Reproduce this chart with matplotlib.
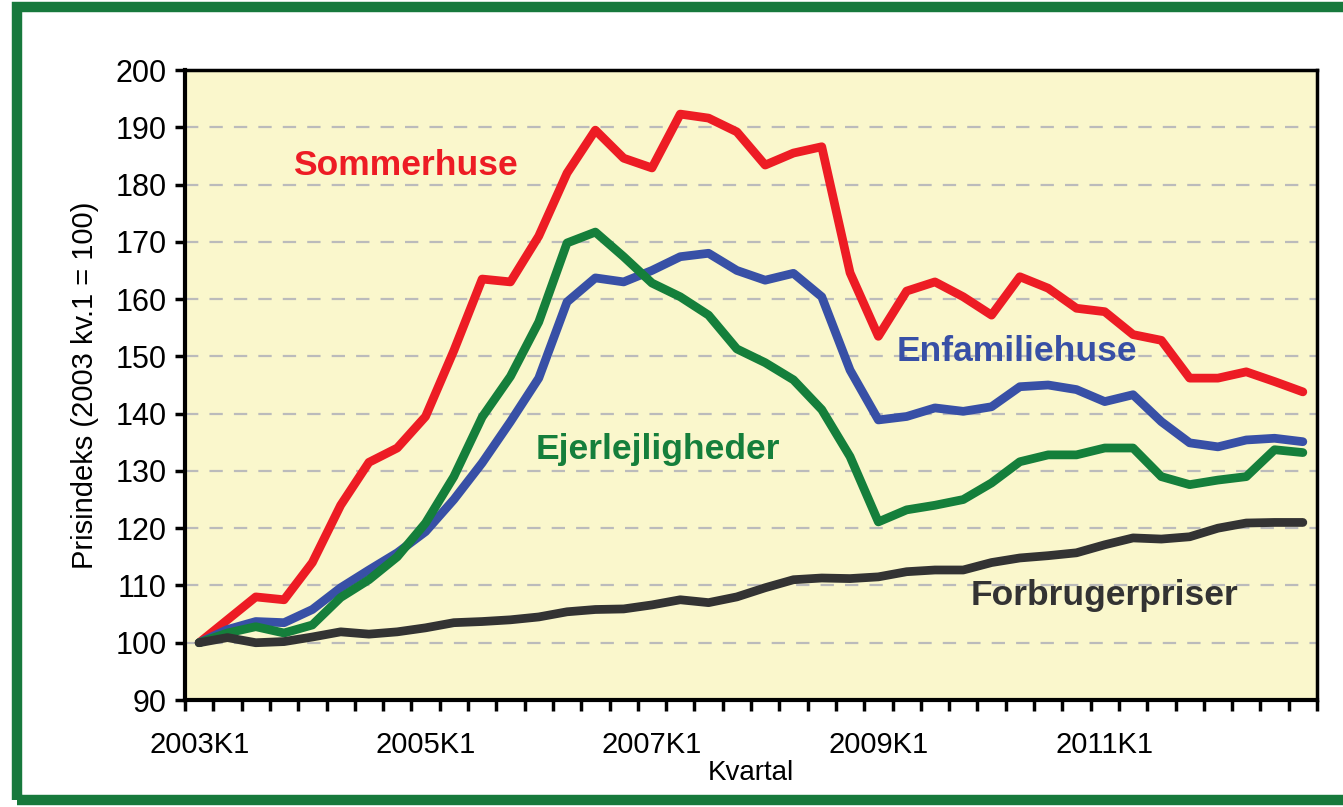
import numpy as np
import matplotlib.pyplot as plt
from matplotlib.patches import Rectangle

plt.rcParams['font.family'] = ['Liberation Sans', 'DejaVu Sans']

# kvartaler 2003K1 .. 2012K4
quarters = [f'{y}K{q}' for y in range(2003, 2013) for q in range(1, 5)]

sommerhuse = [100, 104, 108, 107.5, 114, 124, 131.5, 134, 139.5, 151,
              163.5, 163, 171, 182, 189.5, 184.6, 182.9, 192.3, 191.6, 189.2,
              183.4, 185.5, 186.6, 164.6, 153.5, 161.4, 163, 160.4, 157.2, 163.9,
              161.9, 158.4, 157.8, 153.8, 152.8, 146.2, 146.2, 147.3, 145.6, 143.8]
enfamiliehuse = [100, 102.3, 103.7, 103.5, 105.8, 109.6, 112.7, 115.7, 119.4, 125,
                 131.4, 138.6, 146.2, 159.5, 163.7, 163, 165, 167.4, 168, 165,
                 163.3, 164.5, 160.4, 147.6, 138.9, 139.5, 141, 140.4, 141.2, 144.7,
                 145, 144.2, 142.1, 143.3, 138.6, 134.9, 134.2, 135.4, 135.7, 135.1]
ejerlejligheder = [100, 101.7, 102.8, 101.7, 103.1, 107.9, 111, 115, 120.9, 129,
                   139.4, 146.5, 156, 169.8, 171.7, 167.4, 162.8, 160.4, 157.2, 151.3,
                   148.9, 145.9, 140.7, 132.5, 121.1, 123.2, 124, 125, 127.9, 131.6,
                   132.8, 132.8, 134, 134, 129, 127.6, 128.4, 129, 133.7, 133.2]
forbrugerpriser = [100, 100.9, 100, 100.2, 101, 101.9, 101.5, 101.9, 102.6, 103.5,
                   103.7, 104, 104.5, 105.4, 105.8, 105.9, 106.6, 107.5, 107, 108,
                   109.6, 111, 111.3, 111.2, 111.5, 112.4, 112.7, 112.7, 114, 114.8,
                   115.2, 115.7, 117.1, 118.3, 118.1, 118.5, 120, 120.9, 121, 121]

series = [
    ('Sommerhuse', sommerhuse, '#ED1C24', 7.3, 183.4),
    ('Enfamiliehuse', enfamiliehuse, '#3850A6', 28.9, 150.8),
    ('Ejerlejligheder', ejerlejligheder, '#157F3B', 16.2, 133.7),
    ('Forbrugerpriser', forbrugerpriser, '#333333', 32.0, 108.2),
]

fig = plt.figure(figsize=(13.43, 8.07), dpi=100)
fig.patch.set_facecolor('white')

# grøn ramme
fig.patches.append(Rectangle((17 / 1343, 7 / 807), 1.05, 793 / 807, transform=fig.transFigure,
                             fill=False, edgecolor='#17793C', linewidth=7.5, zorder=0))

ax = fig.add_axes([185 / 1343, 107 / 807, 1132 / 1343, 630 / 807])
ax.set_facecolor('#FAF7CC')

x = np.arange(len(quarters))
for name, vals, col, tx, ty in series:
    ax.plot(x, vals, color=col, linewidth=6.3, solid_joinstyle='round',
            solid_capstyle='round', zorder=3)
    ax.text(tx, ty, name, color=col, fontsize=25.5, fontweight='bold',
            ha='center', va='center', zorder=4)

ax.set_xlim(-0.5, len(quarters) - 0.5)
ax.set_ylim(90, 200)
ax.set_yticks(np.arange(90, 201, 10))
ax.tick_params(axis='y', labelsize=22, length=7, width=2.5, direction='out', pad=6)
for yv in range(100, 200, 10):
    ax.axhline(yv, color='#BBBBBB', linewidth=1.6, dashes=(6, 5), zorder=1)

# kategoriakse: tickmarks mellem kvartaler, labels hvert 8. kvartal
ax.set_xticks(np.arange(-0.5, len(quarters), 1.0))
ax.set_xticklabels([])
ax.tick_params(axis='x', which='major', length=8, width=2.5, direction='out')
ax.set_xticks(x[::8], minor=True)
ax.set_xticklabels(quarters[::8], minor=True)
ax.tick_params(axis='x', which='minor', length=0, labelsize=21, pad=22)

for s in ['left', 'bottom']:
    ax.spines[s].set_linewidth(3)
for s in ['top', 'right']:
    ax.spines[s].set_linewidth(2.5)

ax.set_ylabel('Prisindeks (2003 kv.1 = 100)', fontsize=21, labelpad=12)
ax.set_xlabel('Kvartal', fontsize=20, labelpad=1)

fig.savefig('out.png', dpi=100)
